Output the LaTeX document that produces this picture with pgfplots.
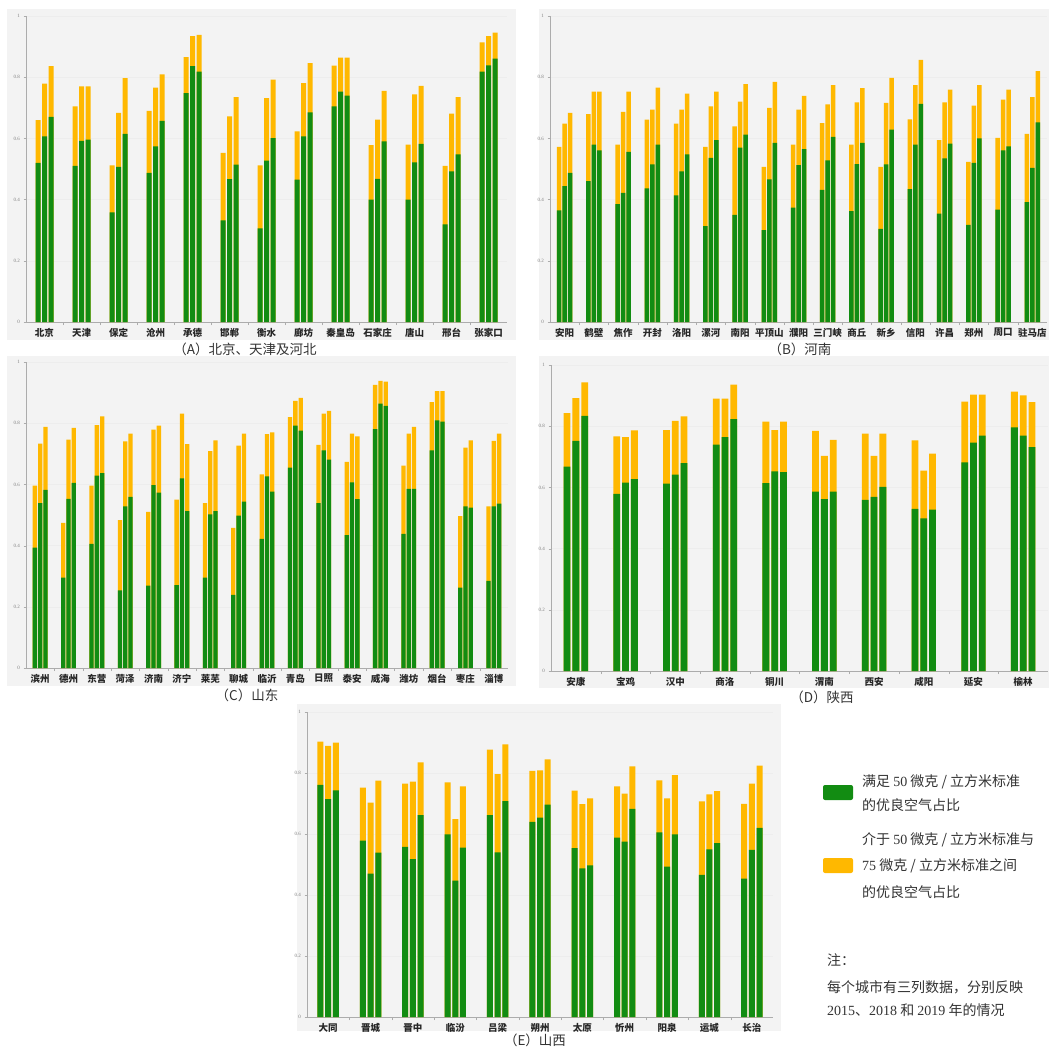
\documentclass[border=0pt]{standalone}
\usepackage{pgfplots}
\pgfplotsset{compat=1.18}
\usepackage{pgfplotstable}
\usepackage{fontspec}
\setmainfont{Liberation Serif}
\newfontfamily\cjk{Noto Sans CJK SC}
\definecolor{grn}{RGB}{18,140,18}
\definecolor{orng}{RGB}{255,184,0}
\definecolor{panelbg}{RGB}{243,243,243}

% columns: green (<=50) and total (<=75) for 2015, 2018, 2019
\pgfplotstableread{
g1 t1 g2 t2 g3 t3
0.520 0.660 0.607 0.779 0.670 0.836
0.510 0.705 0.592 0.770 0.596 0.770
0.358 0.512 0.507 0.683 0.615 0.797
0.487 0.690 0.574 0.766 0.657 0.809
0.748 0.866 0.836 0.934 0.818 0.938
0.332 0.553 0.467 0.672 0.514 0.735
0.306 0.512 0.527 0.732 0.601 0.792
0.465 0.623 0.607 0.781 0.685 0.846
0.705 0.838 0.753 0.864 0.740 0.864
0.400 0.578 0.468 0.661 0.590 0.755
0.400 0.580 0.522 0.744 0.582 0.772
0.319 0.510 0.492 0.681 0.548 0.735
0.818 0.914 0.839 0.934 0.861 0.946
}\tabA

\pgfplotstableread{
g1 t1 g2 t2 g3 t3
0.365 0.572 0.444 0.648 0.487 0.683
0.460 0.679 0.580 0.753 0.561 0.753
0.385 0.580 0.422 0.687 0.556 0.753
0.437 0.661 0.515 0.694 0.580 0.766
0.414 0.648 0.492 0.694 0.548 0.746
0.313 0.572 0.536 0.705 0.594 0.753
0.350 0.639 0.570 0.720 0.612 0.777
0.300 0.507 0.466 0.700 0.585 0.785
0.374 0.580 0.513 0.694 0.565 0.739
0.432 0.650 0.528 0.711 0.605 0.774
0.362 0.580 0.516 0.718 0.585 0.764
0.304 0.507 0.515 0.716 0.629 0.798
0.434 0.662 0.580 0.774 0.713 0.857
0.354 0.594 0.535 0.718 0.583 0.759
0.317 0.523 0.520 0.707 0.600 0.774
0.367 0.602 0.561 0.727 0.574 0.759
0.392 0.615 0.504 0.735 0.652 0.820
}\tabB

\pgfplotstableread{
g1 t1 g2 t2 g3 t3
0.393 0.596 0.539 0.733 0.582 0.788
0.295 0.474 0.553 0.746 0.605 0.785
0.406 0.596 0.629 0.794 0.637 0.822
0.254 0.483 0.528 0.741 0.559 0.766
0.269 0.510 0.598 0.779 0.573 0.792
0.271 0.550 0.620 0.831 0.513 0.732
0.295 0.539 0.502 0.709 0.513 0.744
0.239 0.458 0.498 0.727 0.544 0.766
0.422 0.633 0.626 0.764 0.576 0.770
0.655 0.820 0.792 0.873 0.776 0.883
0.539 0.729 0.711 0.831 0.681 0.840
0.434 0.674 0.607 0.766 0.552 0.757
0.781 0.925 0.864 0.938 0.857 0.936
0.438 0.661 0.585 0.766 0.585 0.788
0.711 0.869 0.809 0.905 0.805 0.905
0.263 0.496 0.528 0.720 0.524 0.744
0.285 0.528 0.528 0.742 0.537 0.766
}\tabC

\pgfplotstableread{
g1 t1 g2 t2 g3 t3
0.668 0.843 0.752 0.892 0.834 0.943
0.579 0.767 0.616 0.764 0.627 0.786
0.612 0.787 0.642 0.817 0.679 0.832
0.740 0.890 0.764 0.890 0.823 0.936
0.614 0.815 0.652 0.787 0.650 0.815
0.586 0.785 0.562 0.703 0.586 0.755
0.559 0.776 0.569 0.703 0.602 0.776
0.530 0.754 0.499 0.655 0.527 0.710
0.682 0.880 0.746 0.903 0.769 0.903
0.796 0.913 0.769 0.901 0.732 0.879
}\tabD

\pgfplotstableread{
g1 t1 g2 t2 g3 t3
0.761 0.903 0.714 0.889 0.743 0.900
0.578 0.752 0.470 0.703 0.539 0.775
0.558 0.765 0.518 0.772 0.662 0.835
0.599 0.769 0.447 0.649 0.555 0.756
0.662 0.877 0.540 0.796 0.708 0.894
0.640 0.807 0.654 0.809 0.696 0.845
0.554 0.742 0.487 0.698 0.497 0.717
0.588 0.756 0.575 0.732 0.682 0.822
0.605 0.776 0.493 0.717 0.599 0.793
0.466 0.707 0.550 0.730 0.570 0.741
0.454 0.699 0.548 0.765 0.620 0.824
}\tabE

\newcommand{\bars}[3]{%
\addplot[fill=orng,draw=none,bar width=#3,bar shift=-#2] table[x expr=\coordindex,y=t1]{#1};
\addplot[fill=grn,draw=none,bar width=#3,bar shift=-#2] table[x expr=\coordindex,y=g1]{#1};
\addplot[fill=orng,draw=none,bar width=#3,bar shift=0pt] table[x expr=\coordindex,y=t2]{#1};
\addplot[fill=grn,draw=none,bar width=#3,bar shift=0pt] table[x expr=\coordindex,y=g2]{#1};
\addplot[fill=orng,draw=none,bar width=#3,bar shift=#2] table[x expr=\coordindex,y=t3]{#1};
\addplot[fill=grn,draw=none,bar width=#3,bar shift=#2] table[x expr=\coordindex,y=g3]{#1};
}

\pgfplotsset{panel/.style={
  scale only axis, height=306pt, ymin=0, ymax=1, ybar,
  anchor=south west,
  axis x line*=bottom, axis y line*=left,
  axis line style={gray!65,-},
  ytick={0,0.2,0.4,0.6,0.8,1},
  yticklabels={0,0.2,0.4,0.6,0.8,1},
  yticklabel style={font=\fontsize{5}{6}\selectfont, text=gray},
  tick align=outside,
  major tick length=2.5pt, minor tick length=3pt,
  tick style={gray!65},
  every major x tick/.style={draw=none},
  minor x tick num=1,
  ymajorgrids, major grid style={gray!14},
  xticklabel style={font=\cjk\bfseries\fontsize{9.5}{10}\selectfont, text=black!85},
}}

\begin{document}
\begin{tikzpicture}
\useasboundingbox (0,0) rectangle (1049pt,-1048pt);
\fill[white] (0,0) rectangle (1049pt,-1048pt);
% panel backgrounds
\fill[panelbg] (7pt,-9pt) rectangle (516pt,-340pt);
\fill[panelbg] (539pt,-9pt) rectangle (1049pt,-340pt);
\fill[panelbg] (7pt,-356pt) rectangle (516pt,-686pt);
\fill[panelbg] (539pt,-356pt) rectangle (1049pt,-688pt);
\fill[panelbg] (297pt,-704pt) rectangle (781pt,-1031pt);

% (A)
\begin{axis}[panel, at={(26pt,-322pt)}, width=481pt, xmin=-0.5, xmax=12.5,
  xtick={0,...,12},
  xticklabels={北京,天津,保定,沧州,承德,邯郸,衡水,廊坊,秦皇岛,石家庄,唐山,邢台,张家口}]
\bars{\tabA}{6.5pt}{5pt}
\end{axis}
% (B)
\begin{axis}[panel, at={(550pt,-322pt)}, width=497pt, xmin=-0.5, xmax=16.5,
  xtick={0,...,16},
  xticklabels={安阳,鹤壁,焦作,开封,洛阳,漯河,南阳,平顶山,濮阳,三门峡,商丘,新乡,信阳,许昌,郑州,周口,驻马店}]
\bars{\tabB}{5.5pt}{4.5pt}
\end{axis}
% (C)
\begin{axis}[panel, at={(26pt,-668pt)}, width=482pt, xmin=-0.5, xmax=16.5,
  xtick={0,...,16},
  xticklabels={滨州,德州,东营,菏泽,济南,济宁,莱芜,聊城,临沂,青岛,日照,泰安,威海,潍坊,烟台,枣庄,淄博}]
\bars{\tabC}{5.3pt}{4.3pt}
\end{axis}
% (D)
\begin{axis}[panel, at={(551pt,-671pt)}, width=497pt, xmin=-0.5, xmax=9.5,
  xtick={0,...,9},
  xticklabels={安康,宝鸡,汉中,商洛,铜川,渭南,西安,咸阳,延安,榆林}]
\bars{\tabD}{8.8pt}{6.8pt}
\end{axis}
% (E)
\begin{axis}[panel, at={(307pt,-1017pt)}, width=466pt, height=305pt, xmin=-0.5, xmax=10.5,
  xtick={0,...,10},
  xticklabels={大同,晋城,晋中,临汾,吕梁,朔州,太原,忻州,阳泉,运城,长治}]
\bars{\tabE}{7.7pt}{6pt}
\end{axis}

% panel titles
\begin{scope}[every node/.style={font=\cjk\fontsize{13.5}{15}\selectfont, text=black!80, inner sep=0pt}]
\node at (245pt,-349pt) {（A）北京、天津及河北};
\node at (800pt,-349pt) {（B）河南};
\node at (247pt,-695pt) {（C）山东};
\node at (822pt,-697pt) {（D）陕西};
\node at (535pt,-1040pt) {（E）山西};
\end{scope}

% legend
\fill[grn, rounded corners=2pt] (823pt,-785pt) rectangle (853pt,-800pt);
\fill[orng, rounded corners=2pt] (823pt,-858pt) rectangle (853pt,-873pt);
\begin{scope}[every node/.style={font=\cjk\fontsize{14}{16}\selectfont, text=black!80, inner sep=0pt, anchor=west}]
\node at (862pt,-782pt) {满足 \textrm{50} 微克 / 立方米标准};
\node at (862pt,-805pt) {的优良空气占比};
\node at (862pt,-840pt) {介于 \textrm{50} 微克 / 立方米标准与};
\node at (862pt,-866pt) {\textrm{75} 微克 / 立方米标准之间};
\node at (862pt,-892pt) {的优良空气占比};
\node at (827pt,-960pt) {注：};
\node at (827pt,-987pt) {每个城市有三列数据，分别反映};
\node at (827pt,-1010pt) {\textrm{2015}、\textrm{2018} 和 \textrm{2019} 年的情况};
\end{scope}
\end{tikzpicture}
\end{document}
